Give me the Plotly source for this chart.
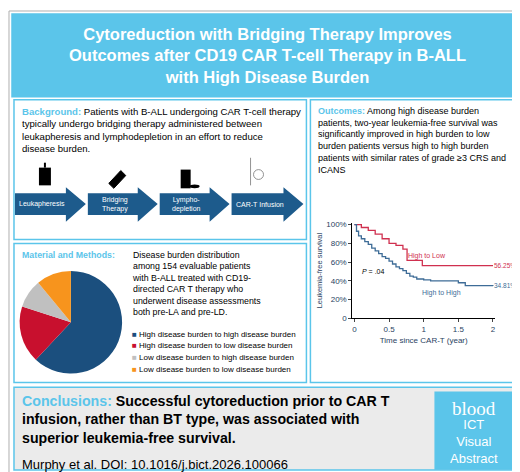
import plotly.graph_objects as go

W, H = 520, 472
BLUE_LT = '#5bc5ea'
NAVY = '#1d5b8c'
RED = '#d0304f'

# pie data (share of 154 patients)
pie_labels = ['High disease burden to high disease burden',
              'High disease burden to low disease burden',
              'Low disease burden to high disease burden',
              'Low disease burden to low disease burden']
pie_values = [62, 18, 9, 11]
pie_colors = ['#1b4f7e', '#c8102e', '#c0c0c0', '#f7941d']

# Kaplan-Meier curves
hl_t = [0, 0.1, 0.2, 0.3, 0.4, 0.5, 0.6, 0.7, 0.76, 0.98, 2.0]
hl_s = [1.0, 0.97, 0.94, 0.9, 0.85, 0.8, 0.78, 0.74, 0.62, 0.5625, 0.5625]
hh_t = [0, 0.03, 0.06, 0.1, 0.15, 0.2, 0.25, 0.3, 0.35, 0.4, 0.45, 0.5, 0.55,
        0.6, 0.65, 0.7, 0.75, 0.8, 0.85, 0.9, 1.0, 1.1, 1.5, 1.6, 2.0]
hh_s = [1.0, 0.93, 0.88, 0.85, 0.82, 0.79, 0.75, 0.72, 0.69, 0.66, 0.64, 0.61,
        0.58, 0.55, 0.53, 0.51, 0.48, 0.45, 0.44, 0.42, 0.41, 0.40, 0.38, 0.35, 0.3481]

steps = ['Leukapheresis', 'Bridging<br>Therapy', 'Lympho-<br>depletion', 'CAR-T Infusion']
step_x = [(7, 78), (80, 150), (152, 222), (224, 296)]


def px(x):
    return x / W


def py(y):
    return 1 - y / H


fig = go.Figure()

fig.add_trace(go.Pie(
    values=pie_values, labels=pie_labels, marker=dict(colors=pie_colors),
    sort=False, direction='clockwise', rotation=0, textinfo='none',
    showlegend=False, domain=dict(x=[px(11), px(115)], y=[py(369), py(265)])))

fig.add_trace(go.Scatter(x=hl_t, y=hl_s, mode='lines', line_shape='hv',
                         line=dict(color=RED, width=1.3), showlegend=False))
fig.add_trace(go.Scatter(x=hh_t, y=hh_s, mode='lines', line_shape='hv',
                         line=dict(color='#3e6c97', width=1.3), showlegend=False))

shapes = []
annos = []


def rect(x0, y0, x1, y1, fill='rgba(0,0,0,0)', line=BLUE_LT, lw=1.5):
    shapes.append(dict(type='rect', xref='paper', yref='paper', x0=px(x0), x1=px(x1),
                       y0=py(y1), y1=py(y0), fillcolor=fill, line=dict(color=line, width=lw),
                       layer='below'))


def text(x, y, s, size=9.5, color='black', xa='left', ya='top', align='left', family='Liberation Sans, Arial'):
    annos.append(dict(xref='paper', yref='paper', x=px(x), y=py(y), text=s, showarrow=False,
                      xanchor=xa, yanchor=ya, align=align,
                      font=dict(size=size, color=color, family=family)))


rect(1, 1, 519, 471, fill='white', line='#b0b0b0', lw=1)
rect(4, 4, 516, 88, fill=BLUE_LT, line=BLUE_LT)
rect(6, 91, 299, 233)
rect(303, 91, 515, 378)
rect(6, 237, 299, 378)
rect(6, 383, 515, 467, fill='#ebebeb')
rect(428, 388, 507, 466, fill=BLUE_LT, line=BLUE_LT)

text(260, 46, '<b>Cytoreduction with Bridging Therapy Improves<br>Outcomes after CD19 CAR T-cell Therapy in B-ALL<br>with High Disease Burden</b>',
     size=16.5, color='white', xa='center', ya='middle', align='center')

text(12, 95, f'<b><span style="color:{BLUE_LT}">Background:</span></b> Patients with B-ALL undergoing CAR T-cell therapy<br>'
     'typically undergo bridging therapy administered between<br>'
     'leukapheresis and lymphodepletion in an effort to reduce<br>disease burden.', size=9.6)

for (x0, x1), lab in zip(step_x, steps):
    hx = x1 - 20
    shapes.append(dict(type='path', xref='paper', yref='paper', fillcolor=NAVY, line=dict(width=0),
                       path=f'M {px(x0)},{py(186)} L {px(hx)},{py(186)} L {px(hx)},{py(180)} '
                            f'L {px(x1)},{py(197)} L {px(hx)},{py(215)} L {px(hx)},{py(208)} '
                            f'L {px(x0)},{py(208)} Z'))
    text((x0 + hx) / 2 + 2, 197, lab, size=7, color='white', xa='center', ya='middle', align='center')

# simple icons
shapes.append(dict(type='rect', xref='paper', yref='paper', x0=px(31), x1=px(43), y0=py(178), y1=py(160),
                   fillcolor='black', line=dict(width=0)))
shapes.append(dict(type='line', xref='paper', yref='paper', x0=px(37), x1=px(37), y0=py(160), y1=py(155),
                   line=dict(color='black', width=2)))
shapes.append(dict(type='path', xref='paper', yref='paper', fillcolor='black', line=dict(color='black', width=1),
                   path=f'M {px(101)},{py(176)} L {px(113)},{py(163)} L {px(118)},{py(168)} L {px(106)},{py(181)} Z'))
shapes.append(dict(type='rect', xref='paper', yref='paper', x0=px(173), x1=px(183), y0=py(181), y1=py(162),
                   fillcolor='black', line=dict(width=0)))
shapes.append(dict(type='circle', xref='paper', yref='paper', x0=px(182), x1=px(192), y0=py(181), y1=py(177),
                   fillcolor='black', line=dict(width=0)))
shapes.append(dict(type='circle', xref='paper', yref='paper', x0=px(246), x1=px(256), y0=py(172), y1=py(162),
                   fillcolor='white', line=dict(color='#777', width=0.8)))
shapes.append(dict(type='line', xref='paper', yref='paper', x0=px(243), x1=px(243), y0=py(178), y1=py(150),
                   line=dict(color='#777', width=0.8)))

text(309, 95, f'<b><span style="color:{BLUE_LT}">Outcomes:</span></b> Among high disease burden<br>'
     'patients, two-year leukemia-free survival was<br>significantly improved in high burden to low<br>'
     'burden patients versus high to high burden<br>patients with similar rates of grade ≥3 CRS and<br>ICANS', size=9)

text(12, 242, f'<b><span style="color:{BLUE_LT}">Material and Methods:</span></b>', size=8.8)
text(122, 242, 'Disease burden distribution<br>among 154 evaluable patients<br>with B-ALL treated with CD19-<br>'
     'directed CAR T therapy who<br>underwent disease assessments<br>both pre-LA and pre-LD.', size=8.8)
for i, (lab, c) in enumerate(zip(pie_labels, pie_colors)):
    text(122, 329 + 12 * i, f'<span style="color:{c}">■</span> {lab}', size=8, ya='middle')

text(12, 387, f'<b><span style="color:{BLUE_LT}">Conclusions:</span> Successful cytoreduction prior to CAR T<br>'
     'infusion, rather than BT type, was associated with<br>superior leukemia-free survival.</b>', size=14.2)
text(12, 461, 'Murphy et al. DOI: 10.1016/j.bict.2026.100066', size=13, ya='middle')
text(467, 405, 'blood', size=19, color='white', xa='center', ya='middle', family='Liberation Serif')
text(467, 438, 'ICT<br>Visual<br>Abstract', size=13, color='white', xa='center', ya='middle',
     align='center', family='Liberation Sans')

# KM labels
annos.append(dict(xref='x', yref='y', x=1.05, y=0.6, text='High to Low', showarrow=False, yanchor='bottom',
                  font=dict(size=7, color=RED, family='Liberation Sans')))
annos.append(dict(xref='x', yref='y', x=1.25, y=0.33, text='High to High', showarrow=False, yanchor='top',
                  font=dict(size=7, color='#3e6c97', family='Liberation Sans')))
annos.append(dict(xref='x', yref='y', x=1.99, y=0.5625, text='56.25%', showarrow=False, xanchor='left',
                  font=dict(size=6.5, color=RED, family='Liberation Sans')))
annos.append(dict(xref='x', yref='y', x=1.99, y=0.3481, text='34.81%', showarrow=False, xanchor='left',
                  font=dict(size=6.5, color='#3e6c97', family='Liberation Sans')))
annos.append(dict(xref='x', yref='y', x=0.27, y=0.5, text='<i>P</i> = .04', showarrow=False, xanchor='center',
                  font=dict(size=7, color='black', family='Liberation Sans')))

fig.update_layout(
    width=W, height=H, margin=dict(l=0, r=0, t=0, b=0),
    paper_bgcolor='white', plot_bgcolor='white',
    shapes=shapes, annotations=annos,
    xaxis=dict(domain=[px(345), px(488)], anchor='y', range=[-0.03, 2.03], tickvals=[0, 0.5, 1, 1.5, 2],
               ticktext=['0', '0.5', '1', '1.5', '2'], showline=True, linecolor='black', ticks='outside',
               ticklen=3, showgrid=False, zeroline=False, tickfont=dict(size=8),
               title=dict(text='Time since CAR-T (year)', font=dict(size=8), standoff=4)),
    yaxis=dict(domain=[py(313), py(216)], anchor='x', range=[0, 1.02], tickvals=[0, 0.2, 0.4, 0.6, 0.8, 1.0],
               ticktext=['0', '20%', '40%', '60%', '80%', '100%'], showline=True, linecolor='black',
               ticks='outside', ticklen=3, showgrid=False, zeroline=False, tickfont=dict(size=8),
               title=dict(text='Leukemia-free survival', font=dict(size=7.5), standoff=2)),
    font=dict(family='Liberation Sans, Arial'),
)

fig.write_html('out.html')
